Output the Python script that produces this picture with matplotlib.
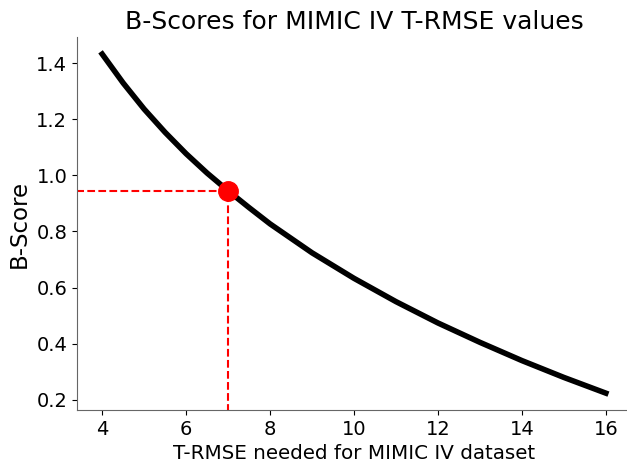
import numpy as np
import matplotlib.pyplot as plt

# T-RMSE values and B-scores
t_rmse = [4, 4.5, 5, 5.5, 6, 6.5, 7, 7.5, 8, 9, 10, 11, 12, 13, 14, 15, 16]
b_score = [1.432, 1.329, 1.236, 1.153, 1.077, 1.008, 0.945, 0.885, 0.827, 0.724,
           0.633, 0.550, 0.474, 0.405, 0.340, 0.280, 0.224]

# point of interest
mimic_x = 7
mimic_y = 0.945

fig = plt.figure(figsize=(6.27, 4.62), dpi=100)
ax = fig.add_axes([0.1228, 0.1126, 0.8836, 0.8074])
ax.plot(t_rmse, b_score, color='black', linewidth=4)
ax.plot([mimic_x, mimic_x], [0, mimic_y], color='red', linestyle='--', linewidth=1.5)
ax.plot([0, mimic_x], [mimic_y, mimic_y], color='red', linestyle='--', linewidth=1.5)
ax.plot(mimic_x, mimic_y, 'o', color='red', markersize=14, zorder=5)

ax.set_xlim(3.4, 16.6)
ax.set_ylim(0.164, 1.493)
ax.set_xticks([4, 6, 8, 10, 12, 14, 16])
ax.set_yticks([0.2, 0.4, 0.6, 0.8, 1.0, 1.2, 1.4])
ax.set_yticklabels(['0.2', '0.4', '0.6', '0.8', '1.0', '1.2', '1.4'])
ax.tick_params(labelsize=14)
ax.set_xlabel('T-RMSE needed for MIMIC IV dataset', fontsize=14.3)
ax.set_ylabel('B-Score', fontsize=16.5)
ax.set_title('B-Scores for MIMIC IV T-RMSE values', fontsize=18)
ax.spines['top'].set_visible(False)
ax.spines['right'].set_visible(False)
for s in ['left', 'bottom']:
    ax.spines[s].set_color('#666666')
plt.savefig('out.png', dpi=100)
